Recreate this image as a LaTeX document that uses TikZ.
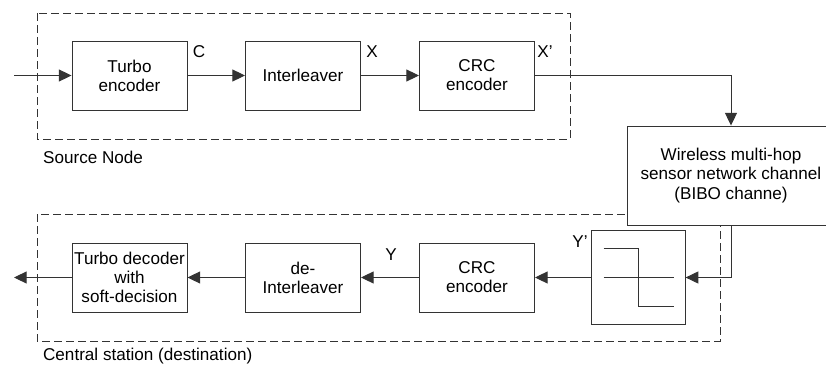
\documentclass[tikz,border=0pt]{standalone}
\usepackage{fontspec}
\setmainfont{Liberation Sans}
\usepackage{tikz}
\usetikzlibrary{arrows.meta,positioning,calc}

\begin{document}
\begin{tikzpicture}[
    x=0.03cm, y=-0.03cm,
    every node/.style={font=\fontsize{14.6}{16.4}\selectfont},
    box/.style={rectangle, draw=black!80, line width=0.8pt, fill=white, minimum width=3.45cm, minimum height=2.07cm, inner sep=0pt, align=center},
    group/.style={draw=black!80, line width=0.8pt, dash pattern=on 2.4mm off 1.2mm},
    arr/.style={draw=black!80, line width=0.8pt, -{Triangle[length=3.8mm,width=3.6mm]}},
]
    \useasboundingbox (0,0) rectangle (826,367);

    % dashed groups
    \draw[group] (37,13) rectangle (570,139);
    \draw[group] (37,214) rectangle (720,341);
    \node[anchor=west] (srclabel) at (39,157) {Source Node};
    \node[anchor=west] (dstlabel) at (39,356) {Central station (destination)};

    % SOURCE (top)
    \coordinate (in) at (14,75.5);
    \node[box] (te) at (129.5,75.5) {Turbo\\encoder};
    \node[box] (il) at (303,75.5) {Interleaver};
    \node[box] (crc) at (477,75.5) {CRC\\encoder};
    \draw[arr] (in) -- (te);
    \draw[arr] (te) -- (il);
    \draw[arr] (il) -- (crc);
    \node (c) at (199,52) {C};
    \node (x) at (372,52) {X};
    \node (xp) at (545,52) {X'};

    % CHANNEL
    \node[box, minimum width=6.24cm, minimum height=2.97cm] (ch) at (731,175.5) {Wireless multi-hop\\sensor network channel\\(BIBO channe)};
    \draw[arr] (crc.east) -| (ch.north);

    % DESTINATION (bottom)
    \node[box, minimum width=2.8cm, minimum height=2.8cm] (q) at (638.5,277.5) {};
    \draw[black!80, line width=0.8pt] ($(q.center)+(-35,0)$) -- ($(q.center)+(35,0)$);
    \draw[black!80, line width=0.8pt] ($(q.center)+(-35,-29)$) -- ($(q.center)+(0,-29)$)
        -- ($(q.center)+(0,29)$) -- ($(q.center)+(35,29)$);
    \node[box] (crc2) at (477,277.5) {CRC\\encoder};
    \node[box] (dil) at (303,277.5) {de-\\Interleaver};
    \node[box] (td) at (129.5,277.5) {Turbo decoder\\with\\soft-decision};
    \coordinate (out) at (14,277.5);
    \draw[arr] (ch.south) |- (q.east);
    \draw[arr] (q) -- (crc2);
    \draw[arr] (crc2) -- (dil);
    \draw[arr] (dil) -- (td);
    \draw[arr] (td) -- (out);
    \node (y) at (391,255) {Y};
    \node (yp) at (580,242) {Y'};
\end{tikzpicture}
\end{document}
